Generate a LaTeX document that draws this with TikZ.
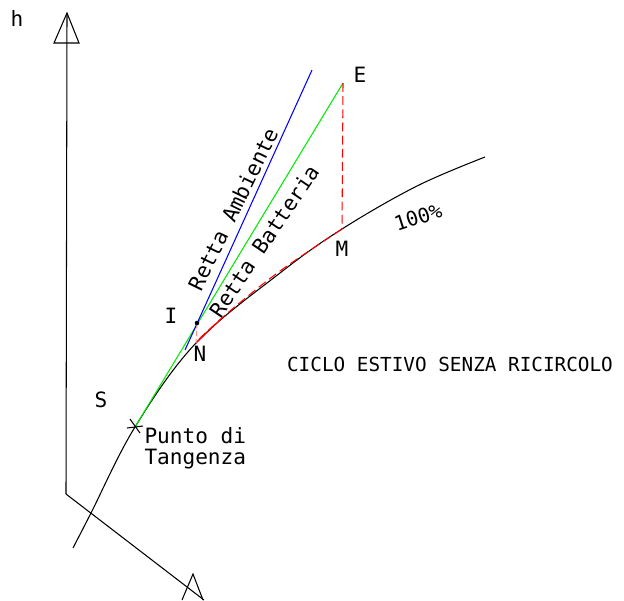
\documentclass[tikz,border=0pt]{standalone}
\usepackage{fontspec}
\newfontfamily\cadfont{DejaVu Sans Mono}
\begin{document}
\begin{tikzpicture}[x=0.02cm, y=-0.02cm, line width=0.6pt,
  lbl/.style={font=\cadfont\fontsize{12}{14}\selectfont, inner sep=0pt},
  redash/.style={pointcolor, dash pattern=on 5pt off 2.5pt}]

\definecolor{ambcolor}{RGB}{0, 0, 255}
\definecolor{battcolor}{RGB}{0, 235, 0}
\definecolor{pointcolor}{RGB}{255, 0, 0}

\useasboundingbox (0,0) rectangle (624,600);

% axes
\coordinate (O) at (66,494);
\coordinate (hTop) at (67,13);
\coordinate (xEnd) at (204,600);
\draw (O) -- (hTop);
\draw (O) -- (xEnd);
\draw (54,43) -- (hTop) -- (79,43) -- cycle;
\draw (182,600) -- (193,574) -- (203,600);

% points
\coordinate (S) at (135,427);
\coordinate (I) at (197,323);
\coordinate (N) at (196,343);
\coordinate (M) at (342,229);
\coordinate (E) at (343,83);
\coordinate (ambLow) at (185,350);
\coordinate (ambHigh) at (312,70);

% saturation curve 100%
\draw plot[smooth, tension=0.6] coordinates {(73,548) (91,513) (S) (N) (280,273) (M) (417,186) (485,157)};

\draw[battcolor] (S) -- (E);
\draw[ambcolor] (ambLow) -- (ambHigh);
\draw[redash] (E) -- (M);
\draw[redash] plot[smooth, tension=0.6] coordinates {(199,339) (230,311) (280,271) (M)};
\draw[pointcolor] (N) -- (222,318);
\draw[pointcolor!45, dash pattern=on 3pt off 1.5pt] (I) -- (N);
\fill (I) circle (1.3pt);
\draw (S) +(-5,-8) -- +(5,6);
\draw (S) +(-8,1) -- +(8,-1);

% labels
\node[lbl] (hLbl) at (17,18) {h};
\node[lbl] (eLbl) at (360,75) {E};
\node[lbl] (mLbl) at (342,249) {M};
\node[lbl] (iLbl) at (171,316) {I};
\node[lbl] (nLbl) at (200,354) {N};
\node[lbl] (sLbl) at (101,400) {S};
\node[lbl, anchor=base west] (punto) at (144,443) {Punto di};
\node[lbl, anchor=base west] (tangenza) at (144,464) {Tangenza};
\node[lbl, rotate=64] (ambLbl) at (233,209) {Retta Ambiente};
\node[lbl, rotate=56] (battLbl) at (264,241) {Retta Batteria};
\node[lbl, rotate=18, font=\cadfont\fontsize{11.5}{13}\selectfont] (satLbl) at (418,217) {100\%};
\node[lbl, font=\cadfont\fontsize{11}{13}\selectfont] (title) at (450,364) {CICLO ESTIVO SENZA RICIRCOLO};

\end{tikzpicture}
\end{document}
